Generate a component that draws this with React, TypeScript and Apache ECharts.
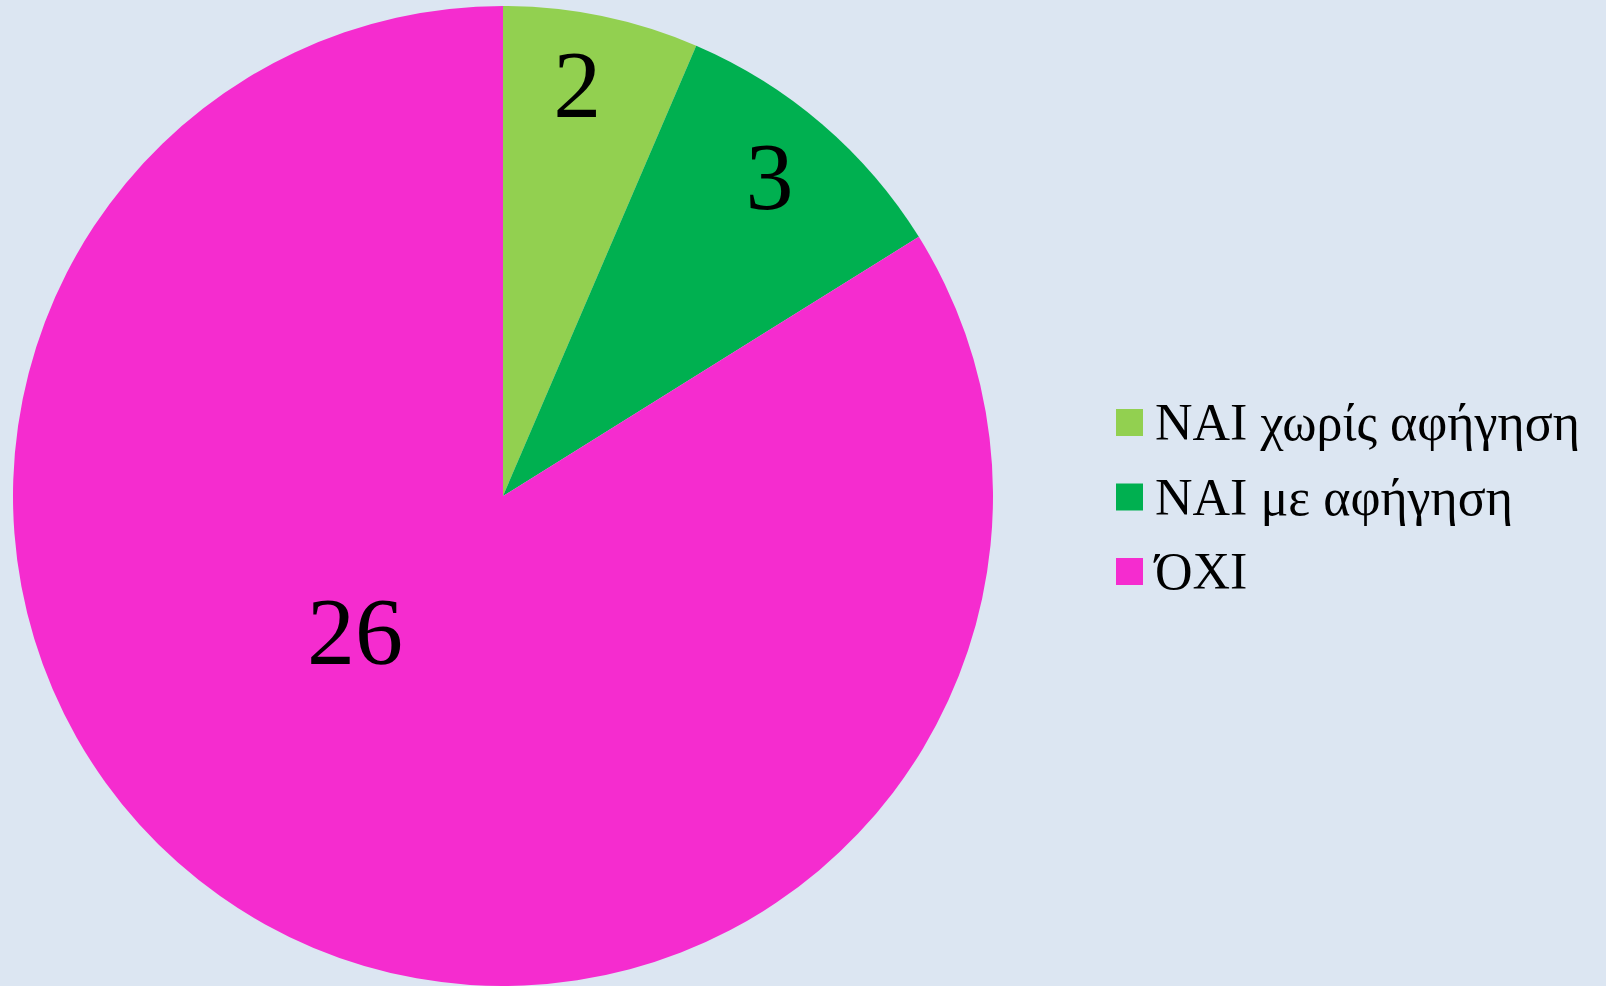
import React, { useEffect, useRef } from "react";
import * as echarts from "echarts";

const categories = ["ΝΑΙ χωρίς αφήγηση", "ΝΑΙ με αφήγηση", "ΌΧΙ"];
const values = [2, 3, 26];
const colors = ["#92D050", "#00B050", "#F52CCF"];

// label placement (style): radial fraction and angular shift (deg) per slice
const labelRadiusFrac = [0.854, 0.849, 0.41];
const labelAngleShift = [-1.4, -0.8, 18.4];

const CX = 503;
const CY = 496;
const R = 490;

export default function App() {
  const ref = useRef<HTMLDivElement>(null);
  useEffect(() => {
    document.body.style.margin = "0";
    const chart = echarts.init(ref.current!, null, { renderer: "svg" });
    const total = values.reduce((a, b) => a + b, 0);
    chart.setOption({
      animation: false,
      backgroundColor: "#DCE6F2",
      legend: {
        orient: "vertical",
        left: 1111,
        top: 388,
        itemWidth: 27,
        itemHeight: 27,
        itemGap: 15.5,
        icon: "rect",
        textStyle: {
          fontFamily: "Liberation Serif",
          fontSize: 52,
          lineHeight: 52,
          color: "#000",
          padding: [7, 0, 0, 7],
        },
        data: categories,
      },
      series: [
        {
          type: "pie",
          center: [CX, CY],
          radius: R,
          startAngle: 90,
          clockwise: true,
          avoidLabelOverlap: false,
          label: {
            show: true,
            position: "inside",
            formatter: "{c}",
            fontFamily: "Liberation Serif",
            fontSize: 96,
            color: "#000",
          },
          labelLine: { show: false },
          emphasis: { disabled: true },
          labelLayout: (params: any) => {
            const i = params.dataIndex;
            let before = 0;
            for (let k = 0; k < i; k++) before += values[k];
            const mid =
              ((before + values[i] / 2) / total) * 360 + labelAngleShift[i];
            const rad = (mid * Math.PI) / 180;
            const r = R * labelRadiusFrac[i];
            return {
              x: CX + r * Math.sin(rad),
              y: CY - r * Math.cos(rad),
              align: "center",
              verticalAlign: "middle",
            };
          },
          data: categories.map((name, i) => ({
            name,
            value: values[i],
            itemStyle: { color: colors[i] },
          })),
        },
      ],
    });
    return () => chart.dispose();
  }, []);
  return (
    <div
      ref={ref}
      style={{ position: "fixed", left: 0, top: 0, width: 1606, height: 986 }}
    />
  );
}
